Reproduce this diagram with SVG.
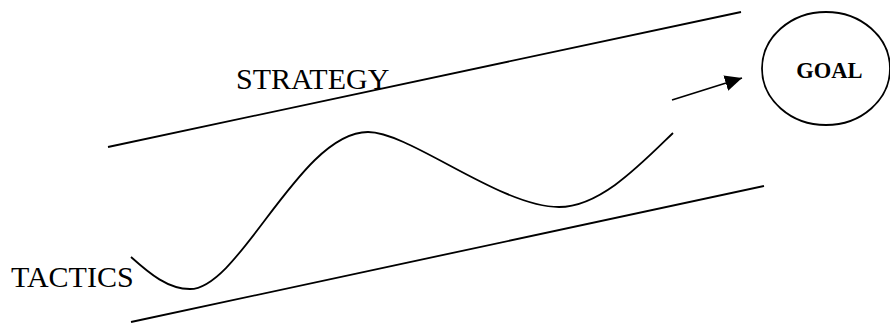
<svg xmlns="http://www.w3.org/2000/svg" width="890" height="326" viewBox="0 0 890 326">
<style>
.ln{fill:none;stroke:#000;stroke-width:1.8;stroke-linecap:butt}
.lbl{font-family:"Liberation Serif","Times New Roman",serif;font-size:30px;fill:#000}
.goal{font-family:"Liberation Serif","Times New Roman",serif;font-size:22.5px;font-weight:bold;fill:#000}
</style>
<defs>
<marker id="ah" markerWidth="18" markerHeight="16" refX="17" refY="8" orient="auto" markerUnits="userSpaceOnUse">
<path d="M0,0 L17,8 L0,16 Z" fill="#000"/>
</marker>
</defs>
<g id="connectors">
<line id="strategy-line" class="ln" x1="108" y1="147" x2="741" y2="12"/>
<line id="tactics-line" class="ln" x1="131" y1="322" x2="764" y2="186"/>
<path id="wave" class="ln" d="M131,257 C150,274 168,289 190,289 C240,289 300,132 368,132 C410,132 500,207 559,207 C600,207 640,165 673,133"/>
<line id="arrow" class="ln" x1="672" y1="100" x2="742" y2="78" marker-end="url(#ah)"/>
</g>
<g id="strategy">
<text class="lbl" x="236" y="89">STRATEGY</text>
</g>
<g id="tactics">
<text class="lbl" x="11" y="287">TACTICS</text>
</g>
<g id="goal">
<ellipse class="ln" cx="826" cy="68.5" rx="64" ry="56.5"/>
<text class="goal" x="829.5" y="77.5" text-anchor="middle">GOAL</text>
</g>
</svg>
